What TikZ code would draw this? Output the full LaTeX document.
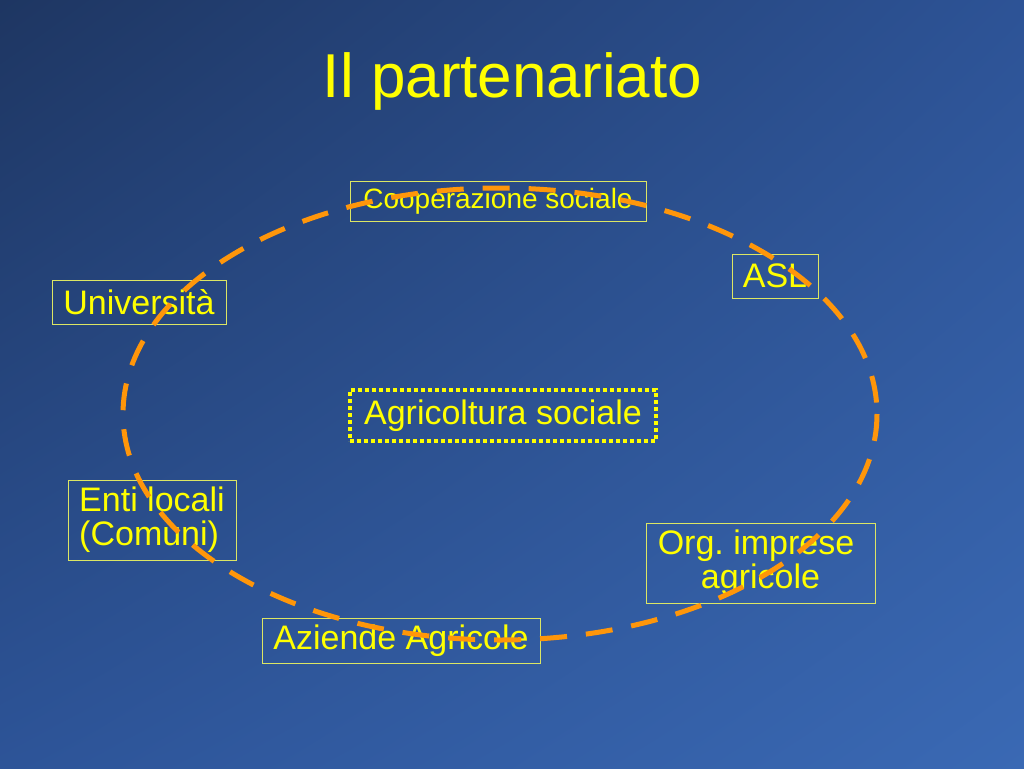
\documentclass[tikz,border=0pt]{standalone}
\usepackage{fontspec}
\setmainfont{Liberation Sans}
\usetikzlibrary{shadings}
\frenchspacing
\definecolor{bgTL}{RGB}{30,54,98}
\definecolor{bgTR}{RGB}{45,83,150}
\definecolor{bgBL}{RGB}{45,84,152}
\definecolor{bgBR}{RGB}{58,105,180}
\definecolor{ylw}{RGB}{255,255,0}
\definecolor{boxcol}{RGB}{220,230,100}
\definecolor{orng}{RGB}{255,150,10}
\begin{document}
\begin{tikzpicture}[x=1pt,y=-1pt,
  box/.style={draw=boxcol, line width=1pt, text=ylw, inner sep=0pt,
    font=\fontsize{34}{34}\selectfont},
  dotbox/.style={draw=ylw, line width=3.5pt, dash pattern=on 4pt off 3pt,
    text=ylw, inner sep=0pt, font=\fontsize{34}{34}\selectfont},
  ring/.style={draw=orng, line width=5pt, dash pattern=on 27pt off 19pt},
  titlestyle/.style={text=ylw, font=\fontsize{62}{62}\selectfont, anchor=base, inner sep=0pt}]
\useasboundingbox (0,0) rectangle (1024,768);
\shade[upper left=bgTL, upper right=bgTR, lower left=bgBL, lower right=bgBR]
  (0,0) rectangle (1024,768);
\node[titlestyle] (title) at (512.5,97) {Il partenariato};
\node[box, minimum width=296pt, minimum height=40pt,
  font=\fontsize{28}{28}\selectfont] (coop) at (498,201) {Cooperazione sociale};
\node[box, minimum width=86pt, minimum height=44pt] (asl) at (775,276) {ASL};
\node[box, minimum width=174pt, minimum height=44pt] (univ) at (139,302) {Università};
\node[dotbox, minimum width=306pt, minimum height=51pt] (agri) at (503,415.5) {Agricoltura sociale};
\node[box, minimum width=168pt, minimum height=80pt, align=left] (enti) at (152,520) {Enti locali\\(Comuni)};
\node[box, minimum width=229pt, minimum height=80pt, align=center] (org) at (760.5,563) {Org. imprese\hspace*{9pt}\\agricole};
\node[box, minimum width=278pt, minimum height=45pt] (az) at (401,640.5) {Aziende Agricole};
\draw[ring] (500,414) ellipse [x radius=377, y radius=226];
\end{tikzpicture}
\end{document}
